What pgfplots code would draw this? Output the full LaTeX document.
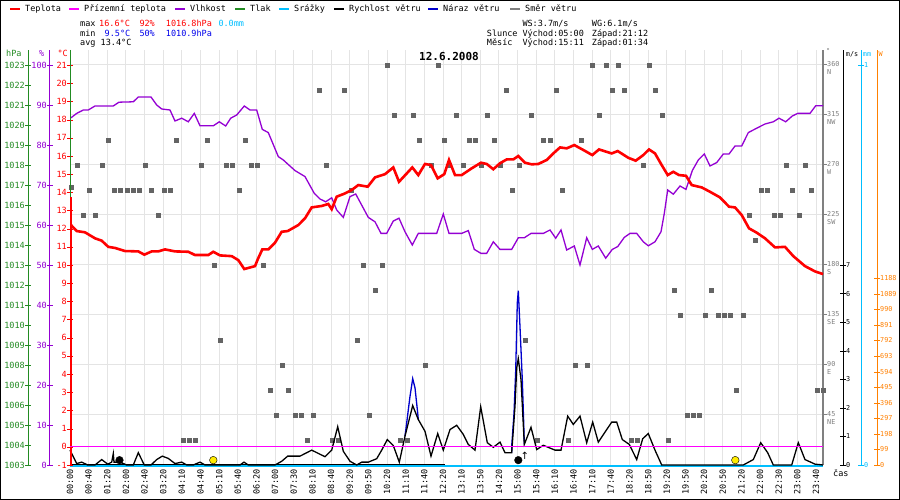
\documentclass[border=0pt]{standalone}
\usepackage{fontspec}
\usepackage{pgfplots}
\pgfplotsset{compat=1.18}
\newfontfamily\px{DejaVu Sans Mono}
\newfontfamily\dv{DejaVu Sans}
\newcommand\fa{\px\fontsize{8.5}{10}\selectfont}
\newcommand\fb{\px\fontsize{6.8}{8}\selectfont}
\definecolor{cRed}{RGB}{255,0,0}
\definecolor{cMag}{RGB}{255,0,255}
\definecolor{cPur}{RGB}{148,0,211}
\definecolor{cGrn}{RGB}{34,139,34}
\definecolor{cCyan}{RGB}{0,191,255}
\definecolor{cBlue}{RGB}{0,0,205}
\definecolor{cMin}{RGB}{0,0,235}
\definecolor{cGray}{RGB}{128,128,128}
\definecolor{cSq}{RGB}{100,100,100}
\definecolor{cOrg}{RGB}{255,128,0}
\definecolor{cGrid}{RGB}{228,228,228}
\definecolor{cYel}{RGB}{255,235,0}
\pgfplotsset{
  full/.style={scale only axis, width=753pt, height=415pt, at={(70pt,35pt)}, anchor=south west, xmin=70, xmax=823, clip=false},
  side/.style={scale only axis, width=1pt, height=415pt, anchor=south west, xmin=0, xmax=1, hide x axis, clip=false,
     tick align=center, major tick length=6pt, yticklabel style={font=\fa, inner sep=0pt},
     /pgf/number format/assume math mode=true, /pgf/number format/1000 sep={}},
}
\begin{document}
\begin{tikzpicture}
\useasboundingbox (0,0) rectangle (900pt,500pt);
\fill[white] (0,0) rectangle (900pt,500pt);
% ---------- direction axis with grid and time labels
\begin{axis}[full, ymin=0, ymax=373.5,
  axis x line*=bottom, axis y line*=right,
  x axis line style={draw=none},
  xtick={70,88.65,107.3,125.95,144.6,163.25,181.9,200.55,219.2,237.85,256.5,275.15,293.8,312.45,331.1,349.75,368.4,387.05,405.7,424.35,443,461.65,480.3,498.95,517.6,536.25,554.9,573.55,592.2,610.85,629.5,648.15,666.8,685.45,704.1,722.75,741.4,760.05,778.7,797.35,816},
  xticklabels={00:00,00:40,01:20,02:00,02:40,03:20,04:10,04:40,05:10,05:40,06:20,07:00,07:30,08:10,08:40,09:20,09:50,10:20,11:10,11:40,12:20,13:10,13:50,14:20,15:00,15:40,16:10,16:40,17:10,17:40,18:20,18:50,19:20,19:50,20:20,20:50,21:20,22:00,22:30,23:00,23:40},
  xtick style={draw=none},
  xticklabel style={font=\fa, rotate=90, anchor=east, inner sep=0pt},
  xmajorgrids, ymajorgrids, grid style={cGrid, line width=1pt},
  ytick={45,90,135,180,225,270,315,360},
  yticklabels={{45\\NE},{90\\E},{135\\SE},{180\\S},{225\\SW},{270\\W},{315\\NW},{360\\N}},
  y axis line style={cGray, line width=1.5pt},
  ytick style={draw=cGray, line width=1pt}, major tick length=4pt, tick align=outside,
  yticklabel style={font=\fb, text=cGray, align=left, anchor=north west, inner sep=0pt, yshift=4pt},
]
\addplot[only marks, mark=square*, mark size=2pt, cSq] coordinates {
(386.7,360)(437.7,360)(592.3,360)(605.7,360)(617.7,360)(649,360)
(319,337.5)(344,337.5)(505.7,337.5)(555.7,337.5)(611.7,337.5)(624,337.5)(655,337.5)
(394,315)(412.7,315)(456,315)(486.7,315)(531,315)(599,315)(661.7,315)
(107.7,292.5)(176,292.5)(207,292.5)(245,292.5)(419,292.5)(444,292.5)(469,292.5)(475,292.5)(494,292.5)(542.7,292.5)(550,292.5)(580.7,292.5)
(77,270)(102,270)(145,270)(200.7,270)(226,270)(231.7,270)(250.7,270)(257,270)(326,270)(430.7,270)(449.3,270)(462.7,270)(480.7,270)(500,270)(519,270)(643.3,270)(785.7,270)(805,270)
(71,250)
(88.7,247.5)(114,247.5)(120,247.5)(127,247.5)(133,247.5)(139,247.5)(151,247.5)(163.7,247.5)(170,247.5)(239,247.5)(351,247.5)(512,247.5)(561.7,247.5)(760.7,247.5)(767,247.5)(792,247.5)(811,247.5)
(83,225)(95,225)(158,225)(749,225)(774,225)(780,225)(799,225)
(755,202.5)
(214,180)(263,180)(362.7,180)(382.3,180)
(375,157.5)(674,157.5)(711,157.5)
(680,135)(705,135)(718,135)(724,135)(730,135)(743,135)
(220,112.5)(357,112.5)(525,112.5)
(282,90)(425,90)(575,90)(587,90)
(270,67.5)(288,67.5)(736,67.5)(817,67.5)(823,67.5)
(276,45)(295,45)(301,45)(313,45)(369,45)(687,45)(693,45)(699,45)
(183,22.5)(189,22.5)(195,22.5)(307,22.5)(332,22.5)(338,22.5)(400,22.5)(407,22.5)(537,22.5)(568,22.5)(631,22.5)(637,22.5)(668,22.5)
};
\end{axis}
% ---------- pressure side axis
\begin{axis}[side, at={(28pt,35pt)}, ymin=1003, ymax=1023.75, axis y line*=left,
  y axis line style={cGrn, line width=1pt}, ytick={1003,1004,...,1023},
  ytick style={draw=cGrn}, yticklabel style={text=cGrn}]
\addplot[draw=none] coordinates {(0,1003)};
\end{axis}
% ---------- humidity side axis
\begin{axis}[side, at={(50pt,35pt)}, ymin=0, ymax=103.75, axis y line*=left,
  y axis line style={cPur, line width=1pt}, ytick={0,10,...,100},
  ytick style={draw=cPur}, yticklabel style={text=cPur}]
\addplot[draw=none] coordinates {(0,0)};
\end{axis}
% ---------- radiation side axis
\begin{axis}[side, at={(876pt,35pt)}, ymin=0, ymax=2640, axis y line*=right,
  y axis line style={cOrg, line width=1pt}, ytick={0,99,...,1188},
  ytick style={draw=cOrg}, yticklabel style={text=cOrg, font=\fb}]
\addplot[draw=none] coordinates {(0,0)};
\end{axis}
% ---------- precipitation side axis
\begin{axis}[side, at={(860pt,35pt)}, ymin=0, ymax=1.0375, axis y line*=right,
  y axis line style={cCyan, line width=1pt}, ytick={0,1},
  ytick style={draw=cCyan}, yticklabel style={text=cCyan, font=\fb}]
\addplot[draw=none] coordinates {(0,0)};
\end{axis}
% ---------- wind speed side axis
\begin{axis}[side, at={(842pt,35pt)}, ymin=0, ymax=14.525, axis y line*=right,
  y axis line style={black, line width=1pt}, ytick={0,1,...,7},
  ytick style={draw=black}, yticklabel style={text=black, font=\fb}]
\addplot[draw=none] coordinates {(0,0)};
\end{axis}
% ---------- precipitation data
\begin{axis}[full, hide axis, ymin=0, ymax=1.0375]
\addplot[cCyan, line width=2pt, yshift=-1pt] coordinates {(70,0) (823,0)};
\end{axis}
% ---------- humidity data
\begin{axis}[full, hide axis, ymin=0, ymax=103.75]
\addplot[cPur, line width=1.3pt] coordinates {
(71,86.8)(76.7,87.9)(83.3,88.75)(88.3,88.75)(95,89.75)(113.3,89.75)(119,90.7)(133.3,90.8)(138.3,92)(151,92)(156.7,90)(161.7,89)(170,88.75)(175,86)(181.7,86.7)(188.3,85.8)(194.3,87.9)(200,84.8)(213.3,84.8)(219.3,85.8)(225.7,84.75)(230.7,86.7)(236.7,87.5)(244.3,89.75)(250,88.75)(256.7,88.75)(262.3,83.9)(268.3,83.1)(278.3,77.1)(283.3,76.25)(295,73.6)(305,72.1)(314.3,67.9)(320,66.5)(325.7,65.8)(331.7,66.8)(336.7,63.75)(343.3,61.9)(350,67.1)(355.7,67.75)(368.3,61.9)(375,60.8)(381,57.9)(386.7,57.9)(393.3,61)(399,61.7)(405,58.3)(412.3,55)(418.3,57.9)(436.7,57.9)(443.3,62.75)(449,57.9)(461.7,57.9)(468.3,58.6)(474.3,53.9)(481,52.9)(486.7,52.9)(493.3,55.8)(500,53.9)(511.7,53.9)(518.3,56.8)(524.3,56.8)(531,57.9)(543.3,57.9)(550,58.75)(555.7,56.7)(561,58.75)(566.7,53.75)(574.3,54.75)(580,50)(586.7,56.8)(592.3,53.9)(598.3,54.75)(605.7,51.7)(612.3,53.9)(617.7,54.6)(624.3,56.9)(630,57.9)(636.7,57.9)(643.3,55.8)(648.3,54.8)(655,55.8)(661,58.3)(664.3,62.9)(667.7,68.75)(673.3,67.7)(680,69.75)(686,68.9)(692.3,73.6)(698.3,76.25)(704.3,77.75)(710,74.75)(716.7,75.6)(723.3,77.75)(729,77.75)(735,79.75)(741.7,79.75)(748.3,83.1)(756.7,84.2)(765,85.25)(773.3,85.8)(779,86.7)(785.7,85.8)(792.3,87.25)(797.7,87.9)(810,87.9)(815.7,89.8)(823,89.8)};
\end{axis}
% ---------- wind data
\begin{axis}[full, hide axis, ymin=0, ymax=14.525]
\addplot[black, line width=1pt] coordinates {(70,0) (445,0)};
\addplot[cBlue, line width=1.3pt] coordinates {(405,1.01)(406.7,1.48)(410,2.4)(412.7,3.02)(415,2.7)(417.7,1.82)(418.3,1.59)};
\addplot[cBlue, line width=1.3pt] coordinates {(511.7,0.43)(511.7,0.66)(514,1.8)(515.7,3.3)(517.3,5.68)(518.3,6.1)(520,4.83)(522.3,2.99)(523.7,1.47)(524.3,0.72)};
\addplot[black, line width=1.3pt] coordinates {
(70,0.52)(76.7,0.05)(81.7,0.1)(87.7,0)(95,0)(101.7,0.19)(107.7,0.03)(111.7,0.1)(113.3,0.4)(114,0.1)(120,0.1)(126.7,0)(133.3,0)(138.3,0.43)(144.3,0)(151,0)(156.7,0.19)(162.3,0.31)(168.3,0.23)(175,0.05)(181.7,0.1)(186.7,0)(193.3,0)(200,0.1)(205,0)(240,0)(244,0.1)(248.3,0)(275,0)(281.7,0.13)(287.7,0.31)(300,0.31)(311.7,0.52)(325,0.29)(331.7,0.52)(337.7,1.34)(343.3,0.48)(350,0.13)(356.7,0)(361.7,0.1)(368.3,0.1)(376.7,0.22)(381.7,0.52)(387.3,0.89)(393.3,0.68)(399.3,0.1)(405,1.01)(412.7,2.08)(418.3,1.59)(425,1.18)(431,0.31)(437.7,1.1)(443.3,0.52)(450,1.24)(456.7,1.39)(463.3,1.07)(468.3,0.72)(475,0.52)(480.7,2.04)(487.3,0.78)(493.3,0.62)(500,0.8)(505,0.43)(511.7,0.43)(515,2.06)(516.7,3.4)(518.3,3.72)(521,2.99)(524.3,0.72)(531,1.32)(536.7,0.54)(543.3,0.69)(555,0.52)(561,0.52)(567.7,1.71)(573.3,1.42)(580,1.71)(586.7,0.78)(592.7,1.5)(598.3,0.8)(611.7,1.5)(616.7,1.5)(622.3,0.89)(629.3,0.72)(636.7,0.19)(642.7,0.92)(648.3,1.1)(655,0.52)(661.7,0)(743.3,0)(753.3,0.19)(760.7,0.78)(767.7,0.43)(773.3,0)(791.7,0)(798.3,0.78)(805,0.19)(815,0.03)(823,0)};
\addplot[only marks, mark=*, mark size=3.8pt, black] coordinates {(119.5,0.17)(518.3,0.17)};
\addplot[only marks, mark=*, mark size=3.8pt, draw=black, fill=cYel] coordinates {(213.3,0.17)(735.3,0.17)};
\node[font=\dv\fontsize{10}{10}\selectfont, inner sep=0pt] at (axis cs:524.8,0.32) {↑};
\end{axis}
% ---------- temperature axis (left, red)
\begin{axis}[full, ymin=-1, ymax=21.83, hide x axis, axis y line*=left,
  y axis line style={cRed, line width=1pt},
  ytick={-1,0,...,21}, ytick style={draw=cRed}, tick align=center, major tick length=6pt,
  yticklabel style={font=\fa, text=cRed, inner sep=0pt},
  /pgf/number format/assume math mode=true]
\draw[cGrn, line width=1.2pt] (axis cs:70.5,21.83) -- (axis cs:70.5,13.74);
\draw[cRed, line width=2pt] (axis cs:70.5,13.74) -- (axis cs:70.5,-1);
\addplot[cMag, line width=1.3pt] coordinates {(70,0) (823,0)};
\addplot[cRed, line width=2.6pt] coordinates {
(71,12.2)(76.7,11.87)(85,11.8)(95,11.47)(101.7,11.34)(108.3,11.0)(115,10.94)(125,10.77)(138.3,10.75)(144.3,10.57)(151.7,10.75)(158.3,10.75)(165,10.86)(175,10.75)(188.3,10.73)(195,10.55)(208.3,10.55)(213.3,10.73)(220,10.53)(231.7,10.49)(238.3,10.27)(244.3,9.78)(255,9.94)(257.7,10.31)(262.3,10.86)(268.3,10.86)(275,11.23)(281.7,11.83)(287.7,11.87)(298.3,12.2)(305,12.57)(311.7,13.17)(321.7,13.25)(328.3,13.36)(331.7,13.07)(336.7,13.76)(345,13.94)(351.7,14.13)(358.3,14.4)(367.7,14.31)(375,14.82)(385,15.0)(393.3,15.37)(399,14.58)(412.3,15.37)(418.3,14.95)(425,15.56)(431,15.5)(437.7,14.77)(444.3,15.0)(449,15.78)(455,14.95)(461.7,14.95)(471.7,15.32)(481,15.63)(486.7,15.56)(493.3,15.27)(500,15.6)(506.7,15.81)(513.3,15.81)(518.3,16.0)(525,15.63)(531.7,15.54)(538.3,15.56)(546.7,15.78)(553.3,16.14)(560,16.47)(566.7,16.42)(574.3,16.6)(583.3,16.33)(592.3,16.05)(599,16.36)(611.7,16.14)(617.7,16.27)(628.3,15.9)(635.7,15.74)(643.3,16.05)(649,16.36)(655,16.14)(661.7,15.5)(667.7,14.95)(673.3,15.13)(679,14.95)(686,14.91)(691.7,14.4)(701.7,14.27)(710,14.03)(720,13.72)(729,13.21)(735,13.17)(741.7,12.75)(749,12.02)(756.7,11.78)(765,11.47)(775,10.97)(785,11.0)(793.3,10.49)(805,9.94)(815,9.65)(823,9.5)};
\end{axis}
% ---------- legend
\foreach \xt/\col/\txt in {25/cRed/Teplota, 84/cMag/Přízemní teplota, 190/cPur/Vlhkost, 250/cGrn/Tlak, 294/cCyan/Srážky, 349/black/Rychlost větru, 443/cBlue/Náraz větru, 525/cGray/Směr větru}{
  \draw[\col, line width=2.5pt] ({(\xt-15)*1pt},491pt) -- ({(\xt-5)*1pt},491pt);
  \node[anchor=base west, inner sep=0pt, font=\fa] at ({\xt*1pt},488.5pt) {\txt};
}
% ---------- statistics
\begin{scope}[every node/.style={anchor=base west, inner sep=0pt, font=\fa}]
\node at (80pt,473pt) {max};
\node[text=cRed] at (99pt,473pt) {16.6°C};
\node[text=cRed] at (139.3pt,473pt) {92\%};
\node[text=cRed] at (165.7pt,473pt) {1016.8hPa};
\node[text=cCyan] at (218.3pt,473pt) {0.0mm};
\node at (80pt,463.5pt) {min};
\node[text=cMin] at (104.5pt,463.5pt) {9.5°C};
\node[text=cMin] at (139.3pt,463.5pt) {50\%};
\node[text=cMin] at (165.7pt,463.5pt) {1010.9hPa};
\node at (80pt,454pt) {avg 13.4°C};
\node at (522.3pt,473pt) {WS:3.7m/s};
\node at (591.7pt,473pt) {WG:6.1m/s};
\node at (486.7pt,463.5pt) {Slunce};
\node at (522.3pt,463.5pt) {Východ:05:00};
\node at (591.7pt,463.5pt) {Západ:21:12};
\node at (486.7pt,454pt) {Měsíc};
\node at (522.3pt,454pt) {Východ:15:11};
\node at (591.7pt,454pt) {Západ:01:34};
\node[text=cGrn] at (6pt,443.3pt) {hPa};
\node[text=cPur] at (39pt,443.3pt) {\%};
\node[text=cRed] at (57.3pt,443.3pt) {°C};
\node[text=cGray, font=\fb] at (826pt,446pt) {°};
\node[font=\fb] at (845.7pt,443.3pt) {m/s};
\node[text=cCyan, font=\fb] at (862.7pt,443.3pt) {mm};
\node[text=cOrg, font=\fb] at (878.3pt,443.3pt) {W};
\node at (833pt,23pt) {čas};
\end{scope}
\node[anchor=base, inner sep=0pt, font=\px\bfseries\fontsize{11}{12}\selectfont] at (449pt,439.3pt) {12.6.2008};
\draw[black, line width=1pt] (0.5pt,0.5pt) rectangle (899.5pt,499.5pt);
\end{tikzpicture}
\end{document}
